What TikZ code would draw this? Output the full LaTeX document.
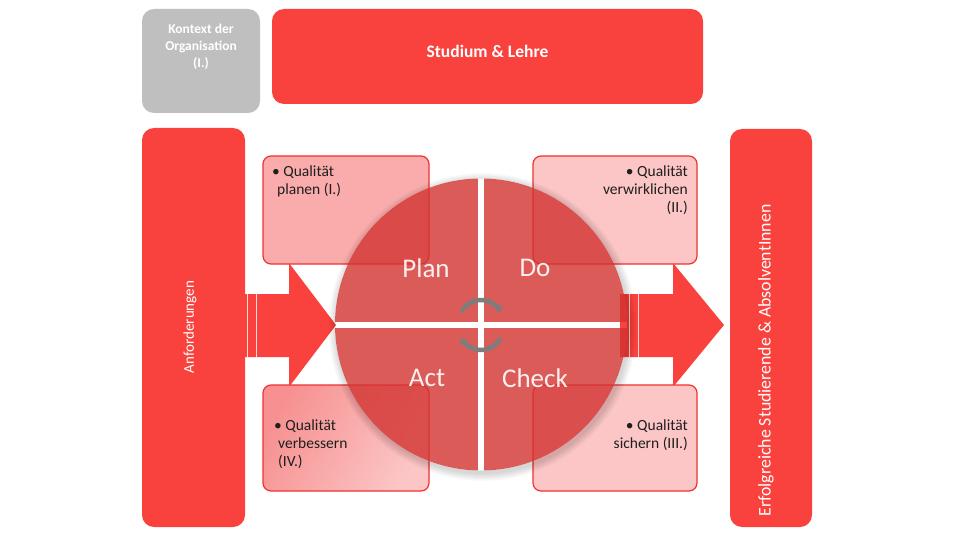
\documentclass[tikz,border=0pt]{standalone}
\usepackage{fontspec}
\setmainfont{Carlito}
\usetikzlibrary{arrows.meta}
\definecolor{mred}{RGB}{249,66,61}
\definecolor{mgray}{RGB}{191,191,191}
\definecolor{bred}{RGB}{240,50,48}
\definecolor{pinkA}{RGB}{250,172,172}
\definecolor{pinkB}{RGB}{252,198,198}
\definecolor{pinkC}{RGB}{247,145,145}
\definecolor{qred}{RGB}{210,50,48}
\definecolor{cyc}{RGB}{125,125,125}
\definecolor{txt}{RGB}{30,30,30}
\tikzset{
  bigbox/.style={rounded corners=12pt, inner sep=0pt, draw=none},
  redbox/.style={bigbox, fill=mred},
  graybox/.style={bigbox, fill=mgray},
  pinkbox/.style={rounded corners=8pt, inner sep=0pt, draw=bred, line width=1.2pt},
  boxtext/.style={inner sep=0pt, text=txt, font=\fontsize{15.5}{18}\selectfont},
  quad/.style={fill=qred, fill opacity=0.8},
  qlabel/.style={text=white, text opacity=0.9, font=\fontsize{27}{30}\selectfont},
  wtext/.style={text=white, inner sep=0pt},
  blockarrow/.style={fill=mred, draw=none},
  stripe/.style={draw=white!80!mred, line width=1pt},
  cycarrow/.style={draw=cyc, line width=4.5pt, -{Triangle[length=5pt,width=10pt]}}
}
\begin{document}
\begin{tikzpicture}[x=1pt,y=-1pt]
\useasboundingbox[fill=white] (0,0) rectangle (960,540);

% top boxes
\node[graybox, minimum width=118pt, minimum height=104pt] (kontext) at (201,61) {};
\node[wtext, align=center, font=\bfseries\fontsize{13.5}{17}\selectfont] (kontextT) at (201,47) {Kontext der\\Organisation\\(I.)};
\node[redbox, minimum width=431pt, minimum height=95pt] (studium) at (487.5,56.5) {};
\node[wtext, font=\bfseries\fontsize{17.5}{20}\selectfont] (studiumT) at (487.5,51) {Studium \& Lehre};

% side boxes
\node[redbox, minimum width=103pt, minimum height=399pt] (anf) at (193.5,327.5) {};
\node[wtext, rotate=90, font=\fontsize{15}{18}\selectfont] (anfT) at (190,327) {Anforderungen};
\node[redbox, minimum width=82pt, minimum height=398pt] (erf) at (771,328) {};
\node[wtext, rotate=90, font=\fontsize{17.8}{20}\selectfont] (erfT) at (766,360.5) {Erfolgreiche Studierende \& AbsolventInnen};

% block arrows
\fill[blockarrow] (245,294) -- (289,294) -- (289,263) -- (336,325) -- (289,387) -- (289,357) -- (245,357) -- cycle;
\draw[stripe] (247.5,294) -- (247.5,357);
\draw[stripe] (256,294) -- (256,357);
\fill[blockarrow] (620,294) -- (673,294) -- (673,263) -- (724,325) -- (673,387) -- (673,357) -- (620,357) -- cycle;
\draw[stripe] (629,294) -- (629,357);
\draw[stripe] (638,294) -- (638,357);

% pink boxes
\node[pinkbox, fill=pinkA, minimum width=166pt, minimum height=108pt] (tl) at (346,210) {};
\node[pinkbox, fill=pinkB, minimum width=164pt, minimum height=108pt] (tr) at (615,210) {};
\node[pinkbox, left color=pinkC, right color=pinkB, shading angle=60, minimum width=166pt, minimum height=106pt] (bl) at (346,438) {};
\node[pinkbox, fill=pinkB, minimum width=164pt, minimum height=106pt] (br) at (615,438) {};

% circle shadow
\foreach \k in {1,...,8}{
  \fill[black, opacity=0.018, even odd rule] (482.5,327) circle ({146+\k}) (481,324.5) circle (146);
}
% quadrants
\begin{scope}
  \clip (481,324.5) circle (146);
  \fill[quad] (330,170) rectangle (478,321.5);
  \fill[quad] (484,170) rectangle (630,321.5);
  \fill[quad] (330,327.5) rectangle (478,475);
  \fill[quad] (484,327.5) rectangle (630,475);
\end{scope}
\node[qlabel] (plan) at (426,268) {Plan};
\node[qlabel] (do) at (535,268) {Do};
\node[qlabel] (act) at (427,378) {Act};
\node[qlabel] (check) at (535,378) {Check};

% cycle arrows
\draw[cycarrow] (461.4,312) arc[start angle=207, end angle=333, radius=22];
\draw[cycarrow] (500.6,338) arc[start angle=27, end angle=153, radius=22];

% box texts
\node[boxtext, anchor=north west, align=left] (tlT) at (272,166) {\textbullet\ Qualität\\\hspace*{5pt}planen (I.)};
\node[boxtext, anchor=north east, align=right] (trT) at (688,166) {\textbullet\ Qualität\\verwirklichen\\(II.)};
\node[boxtext, anchor=north west, align=left] (blT) at (274,420) {\textbullet\ Qualität\\\hspace*{4pt}verbessern\\\hspace*{4pt}(IV.)};
\node[boxtext, anchor=north east, align=right] (brT) at (688,420) {\textbullet\ Qualität\\sichern (III.)};
\end{tikzpicture}
\end{document}
